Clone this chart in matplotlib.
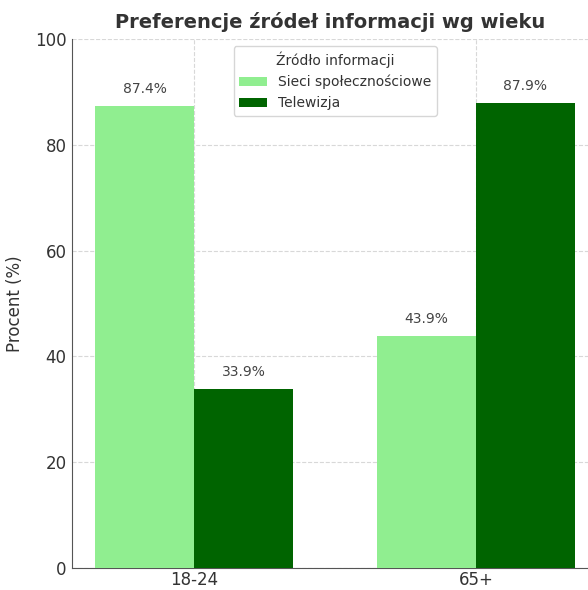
import numpy as np
import matplotlib
matplotlib.use("Agg")
import matplotlib.pyplot as plt

groups = ["18-24", "65+"]
social = [87.4, 43.9]
tv = [33.9, 87.9]
series_names = ["Sieci społecznościowe", "Telewizja"]

fig = plt.figure(figsize=(5.88, 5.9), dpi=100)
ax = fig.add_axes([72 / 588, 22 / 590, 1 - 72 / 588, (568 - 39) / 590])

x = np.arange(len(groups))
w = 0.35
b1 = ax.bar(x - w / 2, social, w, color="#90EE90", label=series_names[0], zorder=3)
b2 = ax.bar(x + w / 2, tv, w, color="#006400", label=series_names[1], zorder=3)

for bars in (b1, b2):
    for r in bars:
        ax.annotate(f"{r.get_height():.1f}%", (r.get_x() + r.get_width() / 2, r.get_height()),
                    xytext=(0, 7), textcoords="offset points", ha="center", va="bottom",
                    fontsize=10, color="#444444")

ax.set_xlim(-0.433, 1.397)
ax.set_ylim(0, 100)
ax.set_xticks(x)
ax.set_xticklabels(groups, fontsize=12, color="#333333")
ax.tick_params(axis="both", length=0, pad=4)
ax.tick_params(axis="x", pad=2)
ax.tick_params(axis="y", labelsize=12, labelcolor="#333333")
ax.set_ylabel("Procent (%)", fontsize=12, color="#333333", labelpad=8)
ax.set_title("Preferencje źródeł informacji wg wieku", fontsize=14, fontweight="bold",
             color="#333333", pad=8)
ax.grid(True, linestyle="--", color="#d8d8d8", linewidth=0.8, zorder=0)
for s in ("top", "right"):
    ax.spines[s].set_visible(False)
for s in ("left", "bottom"):
    ax.spines[s].set_color("#555555")

leg = ax.legend(title="Źródło informacji", loc="upper center", fontsize=10, title_fontsize=10,
                bbox_to_anchor=(0.51, 1.0))
leg.get_title().set_color("#333333")
for t in leg.get_texts():
    t.set_color("#333333")

fig.savefig("out.png", dpi=100)
